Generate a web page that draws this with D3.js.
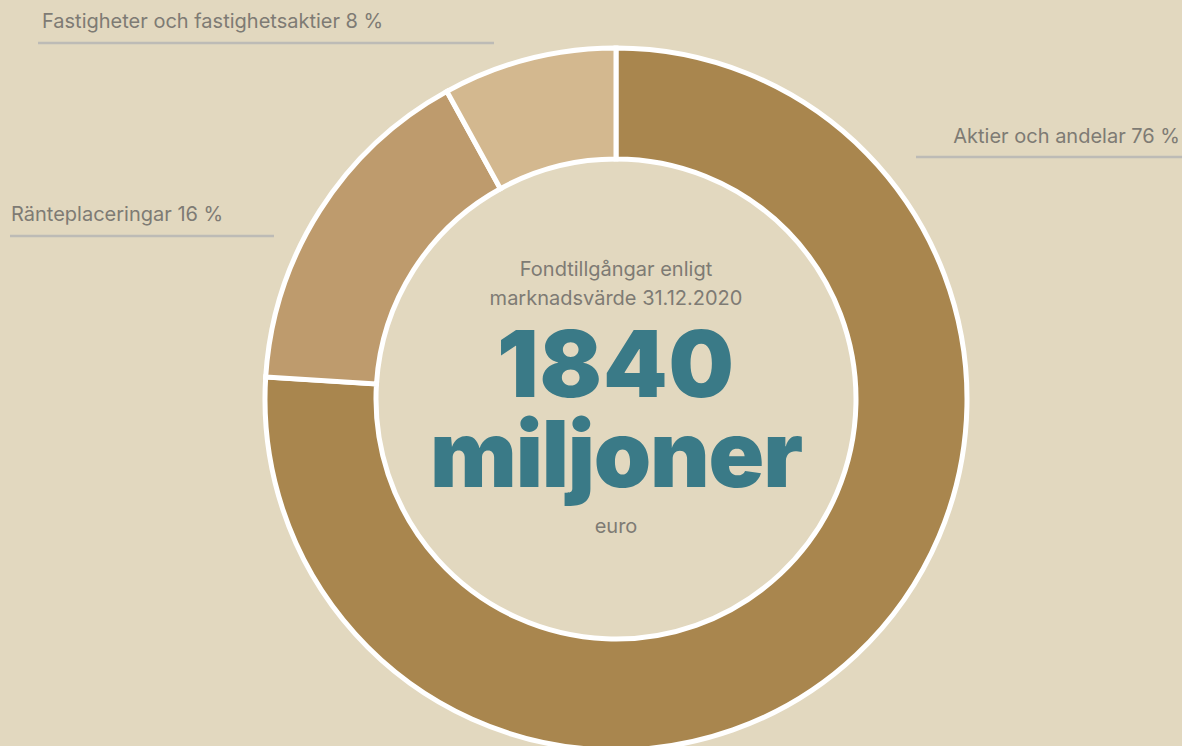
<!DOCTYPE html>
<html>
<head>
<meta charset="utf-8">
<script src="https://cdn.jsdelivr.net/npm/d3@7"></script>
<style>
  html, body { margin: 0; padding: 0; background: #E2D8BF; }
  svg { display: block; }
</style>
</head>
<body>
<svg id="chart"></svg>
<script>
var categories = ["Aktier och andelar", "Ränteplaceringar", "Fastigheter och fastighetsaktier"];
var shares = [76, 16, 8];
var colors = ["#A9864E", "#BE9B6D", "#D3B88F"];
var centerTitle = ["Fondtillgångar enligt", "marknadsvärde 31.12.2020"];
var totalValue = "1840";
var totalUnit = "miljoner";
var currency = "euro";

var width = 1182, height = 746;
var cx = 616, cy = 399;
var outer = 351, inner = 240;

var svg = d3.select("#chart")
    .attr("width", width)
    .attr("height", height);

svg.append("rect").attr("width", width).attr("height", height).attr("fill", "#E2D8BF");

var pie = d3.pie().sort(null).value(function (d) { return d; });
var arc = d3.arc().innerRadius(inner).outerRadius(outer);

var g = svg.append("g").attr("transform", "translate(" + cx + "," + cy + ")");

g.selectAll("path")
    .data(pie(shares))
    .enter().append("path")
    .attr("d", arc)
    .attr("fill", function (d, i) { return colors[i]; })
    .attr("stroke", "#fff")
    .attr("stroke-width", 5);

// labels with underline
var labels = [
    { i: 0, x: 1180, y: 143, anchor: "end", lx0: 916, lx1: 1182, ly: 157 },
    { i: 1, x: 11, y: 221, anchor: "start", lx0: 10, lx1: 274, ly: 236 },
    { i: 2, x: 42, y: 28, anchor: "start", lx0: 38, lx1: 494, ly: 43 }
];

var labelFont = "Inter, 'Noto Sans', sans-serif";

labels.forEach(function (l) {
    svg.append("text")
        .attr("x", l.x).attr("y", l.y)
        .attr("text-anchor", l.anchor)
        .attr("font-family", labelFont)
        .attr("font-size", 20)
        .attr("letter-spacing", 0)
        .attr("fill", "#7E7B74")
        .text(categories[l.i] + " " + shares[l.i] + " %");
    svg.append("line")
        .attr("x1", l.lx0).attr("x2", l.lx1)
        .attr("y1", l.ly).attr("y2", l.ly)
        .attr("stroke", "#BDBBB6")
        .attr("stroke-width", 2.5);
});

// center text
var center = svg.append("g").attr("text-anchor", "middle");

center.selectAll("text.sub")
    .data(centerTitle)
    .enter().append("text")
    .attr("class", "sub")
    .attr("x", cx)
    .attr("y", function (d, i) { return 276 + i * 29; })
    .attr("font-family", labelFont)
    .attr("font-size", 20)
    .attr("fill", "#7E7B74")
    .text(function (d) { return d; });

center.append("text")
    .attr("x", cx).attr("y", 397)
    .attr("font-family", "Inter, sans-serif")
    .attr("font-weight", 900)
    .attr("font-size", 92)
    .attr("letter-spacing", 1)
    .attr("fill", "#3A7A87")
    .text(totalValue);

center.append("text")
    .attr("x", cx).attr("y", 487)
    .attr("font-family", "Inter, sans-serif")
    .attr("font-weight", 900)
    .attr("font-size", 92)
    .attr("letter-spacing", -1.2)
    .attr("fill", "#3A7A87")
    .text(totalUnit);

center.append("text")
    .attr("x", cx).attr("y", 533)
    .attr("font-family", labelFont)
    .attr("font-size", 20)
    .attr("fill", "#7E7B74")
    .text(currency);
</script>
</body>
</html>
